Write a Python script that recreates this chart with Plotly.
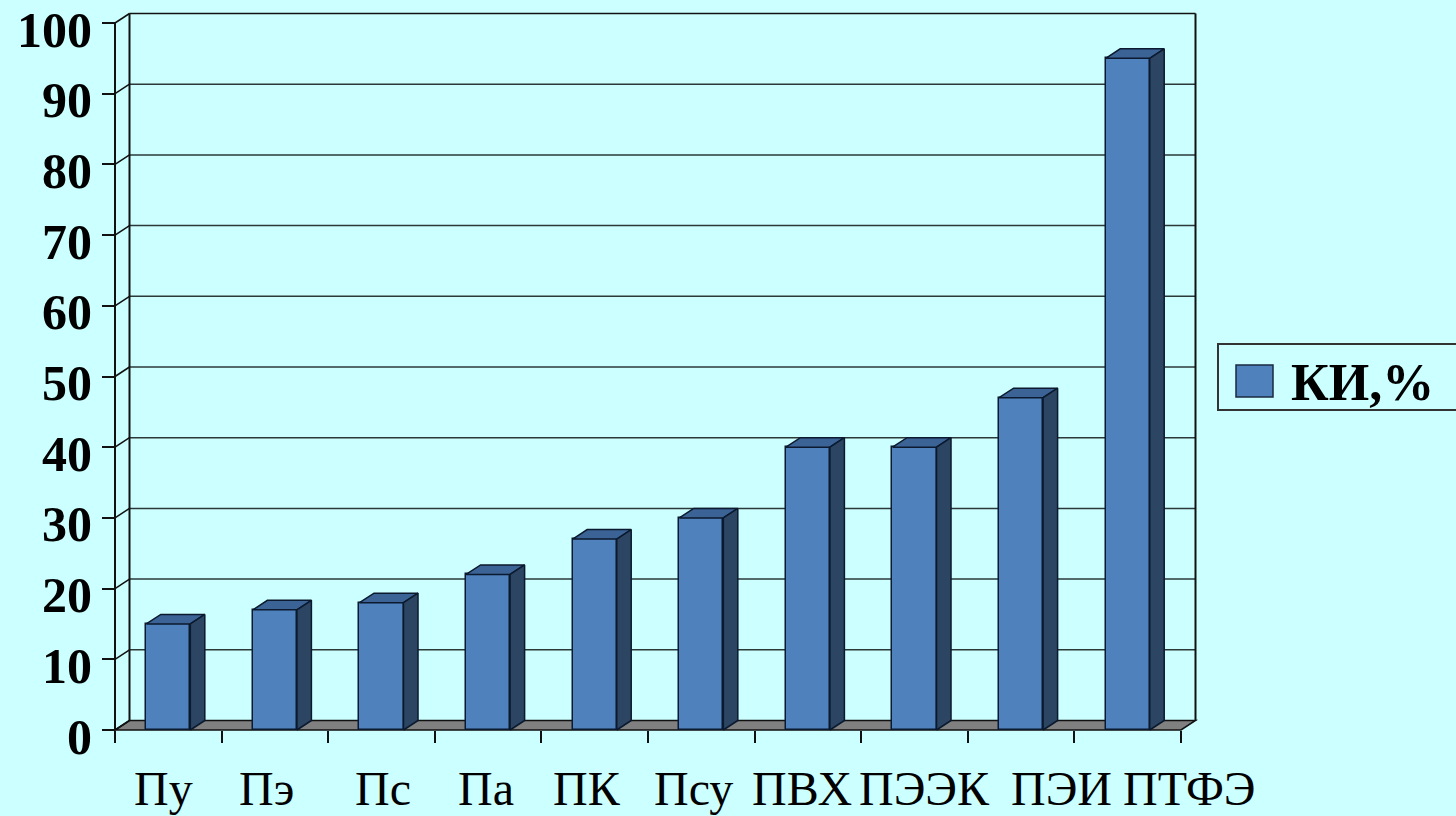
import plotly.graph_objects as go

# Data
categories = ["Пу", "Пэ", "Пс", "Па", "ПК", "Псу", "ПВХ", "ПЭЭК", "ПЭИ", "ПТФЭ"]
ki_values = [15, 17, 18, 22, 27, 30, 40, 40, 47, 95]
y_ticks = [0, 10, 20, 30, 40, 50, 60, 70, 80, 90, 100]
series_name = "КИ,%"

# Page and plot geometry (pixels)
W, H = 1456, 816
L, R, T, B = 105, 1200, 10, 734          # plot area edges
X0_PX, CAT_PX = 115, 106.6               # left edge of category axis, px per category
Y0_PX, UNIT_PX = 730, 7.07               # baseline pixel, px per value unit
DX_PX, DY_PX = 14.5, 9.5                 # depth offset of the back wall

PW, PH = W - L - (W - R), B - T
x_lo = -0.5 - (X0_PX - L) / CAT_PX
x_hi = -0.5 + (R - X0_PX) / CAT_PX
y_lo = -(B - Y0_PX) / UNIT_PX
y_hi = (Y0_PX - T) / UNIT_PX
dx = DX_PX / CAT_PX
dy = DY_PX / UNIT_PX
n = len(categories)
bar_w = 0.413

BG = "#CCFFFF"
FRONT = "#4F81BD"
TOP = "#3C6396"
SIDE = "#2B4563"
EDGE = "#0B1A2E"
GRID = "#2A3838"
SERIF = "Liberation Serif, Times New Roman, serif"


def px_x(p):
    return (p - L) / PW


def px_y(p):
    return (B - p) / PH


fig = go.Figure()

# Front faces of the columns
xs = list(range(n))
fig.add_trace(go.Bar(
    x=xs, y=ki_values, width=bar_w, name=series_name,
    marker=dict(color=FRONT, line=dict(color=EDGE, width=1.5)),
    showlegend=False, hoverinfo="skip",
))

# Top and side faces for the 3D look
for c, v in zip(xs, ki_values):
    xl, xr = c - bar_w / 2, c + bar_w / 2
    fig.add_trace(go.Scatter(
        x=[xl, xr, xr + dx, xl + dx, xl], y=[v, v, v + dy, v + dy, v],
        mode="lines", fill="toself", fillcolor=TOP,
        line=dict(color=EDGE, width=1.5), showlegend=False, hoverinfo="skip",
    ))
    fig.add_trace(go.Scatter(
        x=[xr, xr + dx, xr + dx, xr, xr], y=[0, dy, v + dy, v, 0],
        mode="lines", fill="toself", fillcolor=SIDE,
        line=dict(color=EDGE, width=1.5), showlegend=False, hoverinfo="skip",
    ))

shapes = []
left, right = -0.5, n - 0.5
ymax = y_ticks[-1]

# Floor
shapes.append(dict(
    type="path", xref="x", yref="y", layer="below",
    path=f"M{left},0 L{right},0 L{right + dx},{dy} L{left + dx},{dy} Z",
    fillcolor="#808080", line=dict(color="#111111", width=1.5),
))

# Back-wall gridlines and side-wall diagonals
for t in y_ticks[1:]:
    shapes.append(dict(type="line", xref="x", yref="y", layer="below",
                       x0=left + dx, x1=right + dx, y0=t + dy, y1=t + dy,
                       line=dict(color=GRID if t < ymax else "#111111", width=1.5)))
for t in y_ticks:
    shapes.append(dict(type="line", xref="x", yref="y", layer="below",
                       x0=left, x1=left + dx, y0=t, y1=t + dy,
                       line=dict(color="#111111", width=1.5)))

# Wall edges
shapes.append(dict(type="line", xref="x", yref="y", layer="below",
                   x0=left + dx, x1=left + dx, y0=dy, y1=ymax + dy,
                   line=dict(color="#111111", width=2)))
shapes.append(dict(type="line", xref="x", yref="y", layer="below",
                   x0=right + dx, x1=right + dx, y0=dy, y1=ymax + dy,
                   line=dict(color="#111111", width=2)))
shapes.append(dict(type="line", xref="x", yref="y", layer="above",
                   x0=left, x1=left, y0=0, y1=ymax,
                   line=dict(color="#111111", width=2)))

# Legend box
shapes.append(dict(type="rect", xref="paper", yref="paper",
                   x0=px_x(1218), x1=px_x(1470), y0=px_y(410), y1=px_y(344),
                   line=dict(color="#333333", width=2), fillcolor=BG))
shapes.append(dict(type="rect", xref="paper", yref="paper",
                   x0=px_x(1236), x1=px_x(1273), y0=px_y(397), y1=px_y(365),
                   line=dict(color="#1a2a40", width=1.5), fillcolor=FRONT))

annotations = [dict(
    text=f"<b>{series_name}</b>", xref="paper", yref="paper",
    x=px_x(1289), y=px_y(382), xanchor="left", yanchor="middle",
    showarrow=False, font=dict(family=SERIF, size=52, color="black"),
)]

# Category labels (spread apart where the wide names would collide)
label_shift = [-5, -8, 1, -2, -8, -8, -6, 10, 40, 62]
for c, name, s in zip(xs, categories, label_shift):
    annotations.append(dict(
        text=name, x=c, xref="x", y=0, yref="paper", yanchor="top",
        xanchor="center", xshift=s, yshift=-26, showarrow=False,
        font=dict(family=SERIF, size=48, color="black"),
    ))

fig.update_layout(
    width=W, height=H,
    margin=dict(l=L, r=W - R, t=T, b=H - B, pad=0, autoexpand=False),
    paper_bgcolor=BG, plot_bgcolor=BG,
    bargap=0, shapes=shapes, annotations=annotations,
    showlegend=False,
    xaxis=dict(
        range=[x_lo, x_hi], showgrid=False, zeroline=False, showline=False,
        tickmode="array", tickvals=[i - 0.5 for i in range(n + 1)],
        ticks="outside", ticklen=12, tickwidth=2, tickcolor="#111111",
        showticklabels=False, anchor="free", position=px_y(Y0_PX),
        automargin=False,
    ),
    yaxis=dict(
        range=[y_lo, y_hi], showgrid=False, zeroline=False, showline=False,
        tickmode="array", tickvals=y_ticks, ticktext=[str(t) for t in y_ticks],
        ticks="outside", ticklen=13, tickwidth=2, tickcolor="#111111",
        tickfont=dict(family=SERIF, size=50, color="black", weight="bold"),
        anchor="free", position=px_x(X0_PX), ticklabelstandoff=0,
        ticklabelshift=6, ticklabeloverflow="allow", automargin=False,
    ),
)

fig.write_html("out.html")
